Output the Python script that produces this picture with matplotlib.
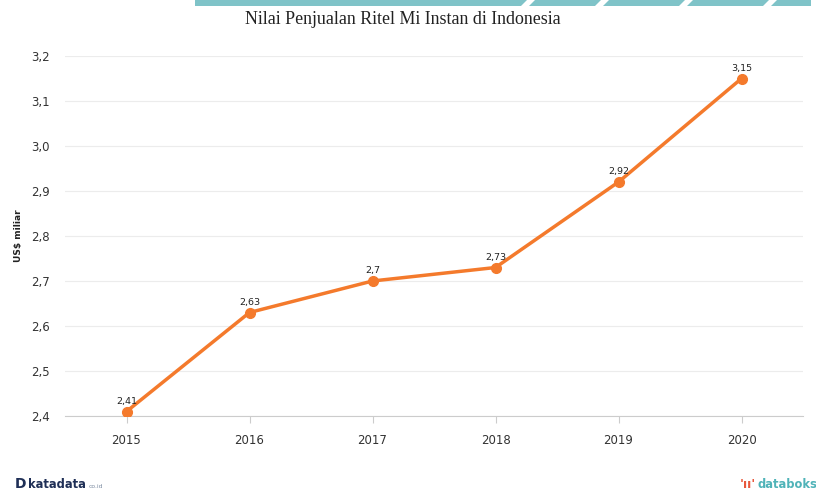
import numpy as np
import matplotlib.pyplot as plt
from matplotlib.patches import Polygon, Rectangle

years = ['2015', '2016', '2017', '2018', '2019', '2020']
sales = [2.41, 2.63, 2.70, 2.73, 2.92, 3.15]
value_labels = ['2,41', '2,63', '2,7', '2,73', '2,92', '3,15']
yticks = [2.4, 2.5, 2.6, 2.7, 2.8, 2.9, 3.0, 3.1, 3.2]
ytick_labels = ['2,4', '2,5', '2,6', '2,7', '2,8', '2,9', '3,0', '3,1', '3,2']

W, H = 816, 491
fig = plt.figure(figsize=(W / 100, H / 100), dpi=100)
fig.patch.set_facecolor('white')

# teal banner remains at the top edge
def px(x, y):
    return (x / W, 1 - y / H)

fig.patches.append(Rectangle(px(195, 6), (811 - 195) / W, 6 / H,
                             transform=fig.transFigure, color='#7fc3c8', lw=0))
for x0 in [521, 595, 679, 763]:
    fig.patches.append(Polygon([px(x0, 6), px(x0 + 8, 6), px(x0 + 14, 0), px(x0 + 6, 0)],
                               closed=True, transform=fig.transFigure,
                               color='white', lw=0))

ax = fig.add_axes([65 / W, 1 - 416 / H, (803 - 65) / W, (416 - 56) / H])
x = np.arange(len(years))
ax.plot(x, sales, color='#f47a2c', lw=2.5, marker='o', ms=7, zorder=3)
for xi, yi, lab in zip(x, sales, value_labels):
    ax.annotate(lab, (xi, yi), xytext=(0, 4), textcoords='offset points',
                ha='center', va='bottom', fontsize=6.8, color='#222222')

ax.set_xlim(-0.5, 5.5)
ax.set_ylim(2.4, 3.2)
ax.set_xticks(x)
ax.set_xticklabels(years)
ax.set_yticks(yticks)
ax.set_yticklabels(ytick_labels)
ax.grid(axis='y', color='#ececec', lw=0.8)
ax.set_axisbelow(True)
for side in ['top', 'right', 'left']:
    ax.spines[side].set_visible(False)
ax.spines['bottom'].set_color('#cccccc')
ax.tick_params(axis='x', length=5, color='#cccccc', labelsize=8.5,
               labelcolor='#333333', pad=8)
ax.tick_params(axis='y', length=0, labelsize=8.5, labelcolor='#333333', pad=11)
ax.set_ylabel('US$ miliar', fontsize=6.5, fontweight='bold', color='#222222')
ax.yaxis.set_label_coords(-42 / 738, 0.5)

fig.text(403 / W, 1 - 20 / H, 'Nilai Penjualan Ritel Mi Instan di Indonesia',
         family='Liberation Serif', fontsize=12.9, color='#222222',
         ha='center', va='center')

# footer logos
fig.text(15 / W, 1 - 484 / H, 'D', fontsize=10, fontweight='bold',
         color='#1f2f56', ha='left', va='center')
fig.text(28 / W, 1 - 484 / H, 'katadata', fontsize=8.3, fontweight='bold',
         color='#1f2f56', ha='left', va='center')
fig.text(89 / W, 1 - 486 / H, 'co.id', fontsize=4.3, color='#7a8aa0',
         ha='left', va='center')
fig.text(740 / W, 1 - 484 / H, "'ıı'", fontsize=9, fontweight='bold',
         color='#e8583c', ha='left', va='center')
fig.text(757 / W, 1 - 484 / H, 'databoks', fontsize=8.3, fontweight='bold',
         color='#4fb3b8', ha='left', va='center')

fig.savefig('out.png', dpi=100)
